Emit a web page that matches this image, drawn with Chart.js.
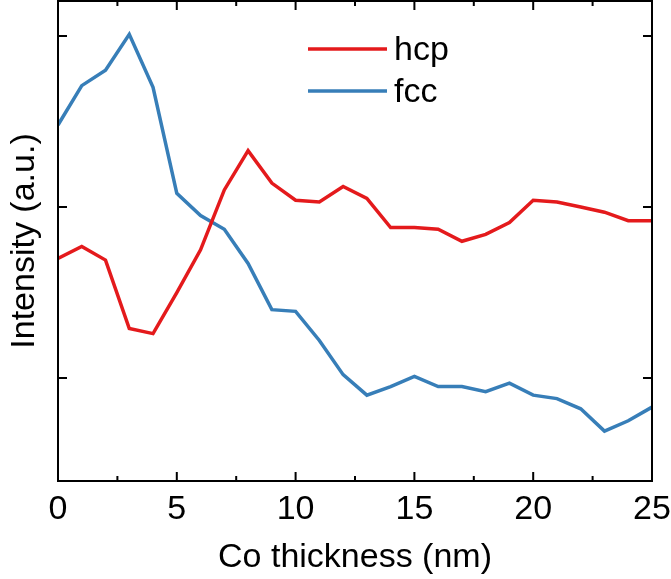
<!DOCTYPE html>
<html>
<head>
<meta charset="utf-8">
<script src="https://cdn.jsdelivr.net/npm/chart.js@4.4.0/dist/chart.umd.min.js"></script>
<style>
    html, body { margin: 0; padding: 0; background: #fff; }
    #wrap { width: 671px; height: 579px; }
</style>
</head>
<body>
<div id="wrap"><canvas id="xrdChart" width="671" height="579"></canvas></div>
<script>
// Co thickness (nm)
const thickness = [0, 1, 2, 3, 4, 5, 6, 7, 8, 9, 10, 11, 12, 13, 14, 15, 16, 17, 18, 19, 20, 21, 22, 23, 24, 25];

// Intensity (a.u.)
const hcpValues = [1.70, 1.77, 1.69, 1.29, 1.26, 1.50, 1.75, 2.10, 2.33, 2.14, 2.04, 2.03, 2.12, 2.05, 1.88, 1.88,
    1.87, 1.80, 1.84, 1.91, 2.04, 2.03, 2.00, 1.97, 1.92, 1.92];
const fccValues = [2.48, 2.71, 2.80, 3.01, 2.70, 2.08, 1.95, 1.87, 1.67, 1.40, 1.39, 1.22, 1.02, 0.90, 0.95, 1.01,
    0.95, 0.95, 0.92, 0.97, 0.90, 0.88, 0.82, 0.69, 0.75, 0.83];

// Tick positions (no labels on the y axis)
const xMajorTicks = [0, 5, 10, 15, 20, 25];
const xMinorTicks = [2.5, 7.5, 12.5, 17.5, 22.5];
const yMajorTicks = [1, 2, 3];

const seriesLabels = ['hcp', 'fcc'];
const seriesColors = ['#e41a1c', '#377eb8'];

const FONT = 'Arial, "Liberation Sans", sans-serif';

// Box around the plot with inward tick marks on all four sides
const framePlugin = {
    id: 'frame',
    afterDraw(chart) {
        const { ctx, chartArea: a, scales } = chart;
        ctx.save();
        ctx.strokeStyle = '#000';
        ctx.lineWidth = 2;
        ctx.strokeRect(a.left, a.top, a.right - a.left, a.bottom - a.top);

        const xTick = (v, len) => {
            const px = scales.x.getPixelForValue(v);
            ctx.beginPath();
            ctx.moveTo(px, a.bottom);
            ctx.lineTo(px, a.bottom - len);
            ctx.moveTo(px, a.top);
            ctx.lineTo(px, a.top + len);
            ctx.stroke();
        };
        xMajorTicks.forEach(v => xTick(v, 9));
        xMinorTicks.forEach(v => xTick(v, 5));

        yMajorTicks.forEach(v => {
            const py = scales.y.getPixelForValue(v);
            ctx.beginPath();
            ctx.moveTo(a.left, py);
            ctx.lineTo(a.left + 9, py);
            ctx.moveTo(a.right, py);
            ctx.lineTo(a.right - 9, py);
            ctx.stroke();
        });
        ctx.restore();
    }
};

// Legend drawn inside the plot area, top middle
const insideLegend = {
    id: 'insideLegend',
    afterDraw(chart) {
        const { ctx } = chart;
        ctx.save();
        ctx.font = '34px ' + FONT;
        ctx.textBaseline = 'middle';
        chart.data.datasets.forEach((ds, i) => {
            const y = 49 + i * 42;
            ctx.strokeStyle = ds.borderColor;
            ctx.lineWidth = 3.5;
            ctx.beginPath();
            ctx.moveTo(308, y);
            ctx.lineTo(387, y);
            ctx.stroke();
            ctx.fillStyle = '#000';
            ctx.fillText(ds.label, 394, y + 2);
        });
        ctx.restore();
    }
};

const ctx = document.getElementById('xrdChart').getContext('2d');
new Chart(ctx, {
    type: 'line',
    data: {
        labels: thickness,
        datasets: [
            {
                label: seriesLabels[0],
                data: thickness.map((x, i) => ({ x: x, y: hcpValues[i] })),
                borderColor: seriesColors[0],
                borderWidth: 3.5,
                pointRadius: 0,
                tension: 0,
                fill: false
            },
            {
                label: seriesLabels[1],
                data: thickness.map((x, i) => ({ x: x, y: fccValues[i] })),
                borderColor: seriesColors[1],
                borderWidth: 3.5,
                pointRadius: 0,
                tension: 0,
                fill: false
            }
        ]
    },
    options: {
        responsive: false,
        animation: false,
        layout: {
            padding: { top: 1, right: 19, bottom: 0, left: 0 }
        },
        plugins: {
            legend: { display: false },
            tooltip: { enabled: false }
        },
        scales: {
            x: {
                type: 'linear',
                min: 0,
                max: 25,
                grid: { display: false, drawTicks: false },
                border: { display: false },
                ticks: {
                    stepSize: 5,
                    color: '#000',
                    padding: 8,
                    maxRotation: 0,
                    font: { family: FONT, size: 34 }
                },
                title: {
                    display: true,
                    text: 'Co thickness (nm)',
                    color: '#000',
                    padding: { top: 0, bottom: 1 },
                    font: { family: FONT, size: 34 }
                },
                afterFit(scale) {
                    scale.height = 98;
                    // let the "0" and "25" labels hang past the plot edges
                    scale.paddingLeft = 0;
                    scale.paddingRight = 0;
                }
            },
            y: {
                min: 0.398,
                max: 3.205,
                grid: { display: false, drawTicks: false },
                border: { display: false },
                ticks: { display: false },
                title: {
                    display: true,
                    text: 'Intensity (a.u.)',
                    color: '#000',
                    padding: { top: 4, bottom: 0 },
                    font: { family: FONT, size: 34 }
                },
                afterFit(scale) {
                    scale.width = 58;
                }
            }
        }
    },
    plugins: [framePlugin, insideLegend]
});
</script>
</body>
</html>
